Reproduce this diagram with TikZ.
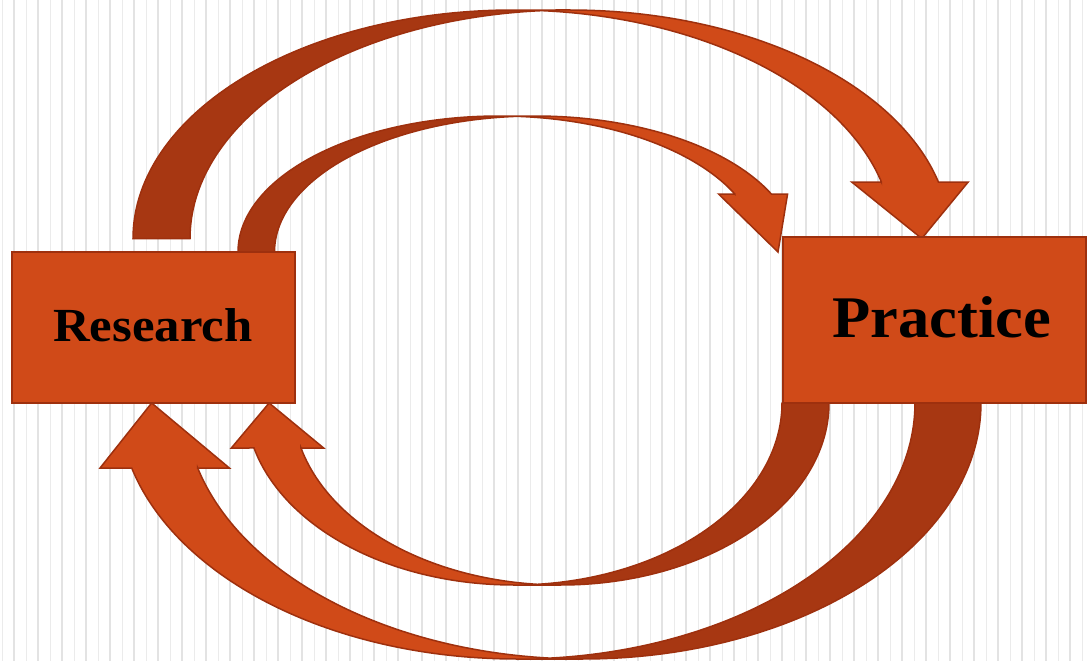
\documentclass[tikz,border=0pt]{standalone}
\usepackage{fontspec}
\setmainfont{Liberation Serif}
\definecolor{frontc}{HTML}{D04A18}
\definecolor{backc}{HTML}{A73712}
\definecolor{edgec}{HTML}{9E300E}
\definecolor{stripeA}{HTML}{E3E3E3}
\definecolor{stripeB}{HTML}{EBEBEB}
\tikzset{
 frontfill/.style={fill=frontc},
 backfill/.style={fill=backc},
 outl/.style={draw=edgec, line width=1.5pt},
 boxst/.style={draw=edgec, line width=1.5pt, fill=frontc, rectangle, inner sep=0pt},
 lbl/.style={font=\bfseries, text=black, inner sep=0pt, anchor=base},
 thinst/.style={draw=stripeB, line width=1pt},
 thickst/.style={draw=stripeA, line width=2pt},
}
% PowerPoint-like curved arrow, local box (0,0)-(w,h), y downwards
\newcommand\curvarrow[5]{%
  \pgfmathsetmacro\cTh{#1}%
  \pgfmathsetmacro\cAw{#2}%
  \pgfmathsetmacro\cAh{#3}%
  \pgfmathsetmacro\cW{#4}%
  \pgfmathsetmacro\cH{#5}%
  \pgfmathsetmacro\cwR{\cW/2-(\cTh+\cAw)/4}%
  \pgfmathsetmacro\cxB{\cwR+\cTh}%
  \pgfmathsetmacro\cphe{-asin(\cAh/\cH)}%
  \pgfmathsetmacro\cdx{\cwR*cos(\cphe)}%
  \pgfmathsetmacro\cxv{\cwR+\cdx}%
  \pgfmathsetmacro\cxvii{\cxB+\cdx}%
  \pgfmathsetmacro\cdh{(\cAw-\cTh)/2}%
  \pgfmathsetmacro\cxiv{\cxv-\cdh}%
  \pgfmathsetmacro\cxviii{\cxvii+\cdh}%
  \pgfmathsetmacro\cxvi{\cW-\cAw/2}%
  \pgfmathsetmacro\cyi{\cH-\cAh}%
  \pgfmathsetmacro\cphA{-acos(\cTh/(2*\cwR))}%
  \pgfmathsetmacro\cphB{-180+acos(\cTh/(2*\cwR))}%
  \fill[frontfill] (\cxvi,\cH) -- (\cxiv,\cyi) -- (\cxv,\cyi)
     -- plot[domain=\cphe:-90,samples=70] ({\cwR+\cwR*cos(\x)},{\cH+\cH*sin(\x)})
     -- (\cxB,0)
     -- plot[domain=-90:\cphe,samples=70] ({\cxB+\cwR*cos(\x)},{\cH+\cH*sin(\x)})
     -- (\cxviii,\cyi) -- cycle;
  \fill[backfill] (0,\cH)
     -- plot[domain=-180:\cphA,samples=70] ({\cwR+\cwR*cos(\x)},{\cH+\cH*sin(\x)})
     -- plot[domain=\cphB:-180,samples=70] ({\cxB+\cwR*cos(\x)},{\cH+\cH*sin(\x)})
     -- cycle;
  \draw[outl] plot[domain=\cphB:-180,samples=70] ({\cxB+\cwR*cos(\x)},{\cH+\cH*sin(\x)})
     -- (0,\cH)
     -- plot[domain=-180:-90,samples=70] ({\cwR+\cwR*cos(\x)},{\cH+\cH*sin(\x)})
     -- (\cxB,0)
     -- plot[domain=-90:\cphe,samples=70] ({\cxB+\cwR*cos(\x)},{\cH+\cH*sin(\x)})
     -- (\cxviii,\cyi) -- (\cxvi,\cH) -- (\cxiv,\cyi) -- (\cxv,\cyi)
     -- plot[domain=\cphe:-90,samples=70] ({\cwR+\cwR*cos(\x)},{\cH+\cH*sin(\x)});
}
\begin{document}
\begin{tikzpicture}[x=1pt,y=-1pt]
\useasboundingbox (0,0) rectangle (1087,661);
\fill[white] (0,0) rectangle (1087,661);
\foreach \k in {0,...,45} {
  \draw[thinst] ({2+24*\k},0) -- ({2+24*\k},661);
  \draw[thickst] ({14+24*\k},0) -- ({14+24*\k},661);
}
% top arrows
\begin{scope}[shift={(133,10)}]
  \curvarrow{57}{116.5}{56.5}{847}{228.5}
\end{scope}
\begin{scope}[shift={(238,116)}]
  \curvarrow{36.5}{69}{58}{574.5}{136}
\end{scope}
% bottom arrows (rotated)
\begin{scope}[shift={(829,585)},rotate=180]
  \curvarrow{47}{92.3}{45}{606}{182}
\end{scope}
\begin{scope}[shift={(981,659)},rotate=180]
  \curvarrow{66}{129.3}{65}{894}{256}
\end{scope}
% boxes
\node[boxst, minimum width=283pt, minimum height=151pt] (res) at (153.5,327.5) {};
\node[boxst, minimum width=303pt, minimum height=166pt] (pra) at (934.5,320) {};
\node[lbl] (rest) at (153,341.7) {\fontsize{47.5}{50}\selectfont\scalebox{1.07}[1]{Research}};
\node[lbl] (prat) at (942,337) {\fontsize{59}{62}\selectfont\scalebox{1.06}[1]{Practice}};
\end{tikzpicture}
\end{document}
